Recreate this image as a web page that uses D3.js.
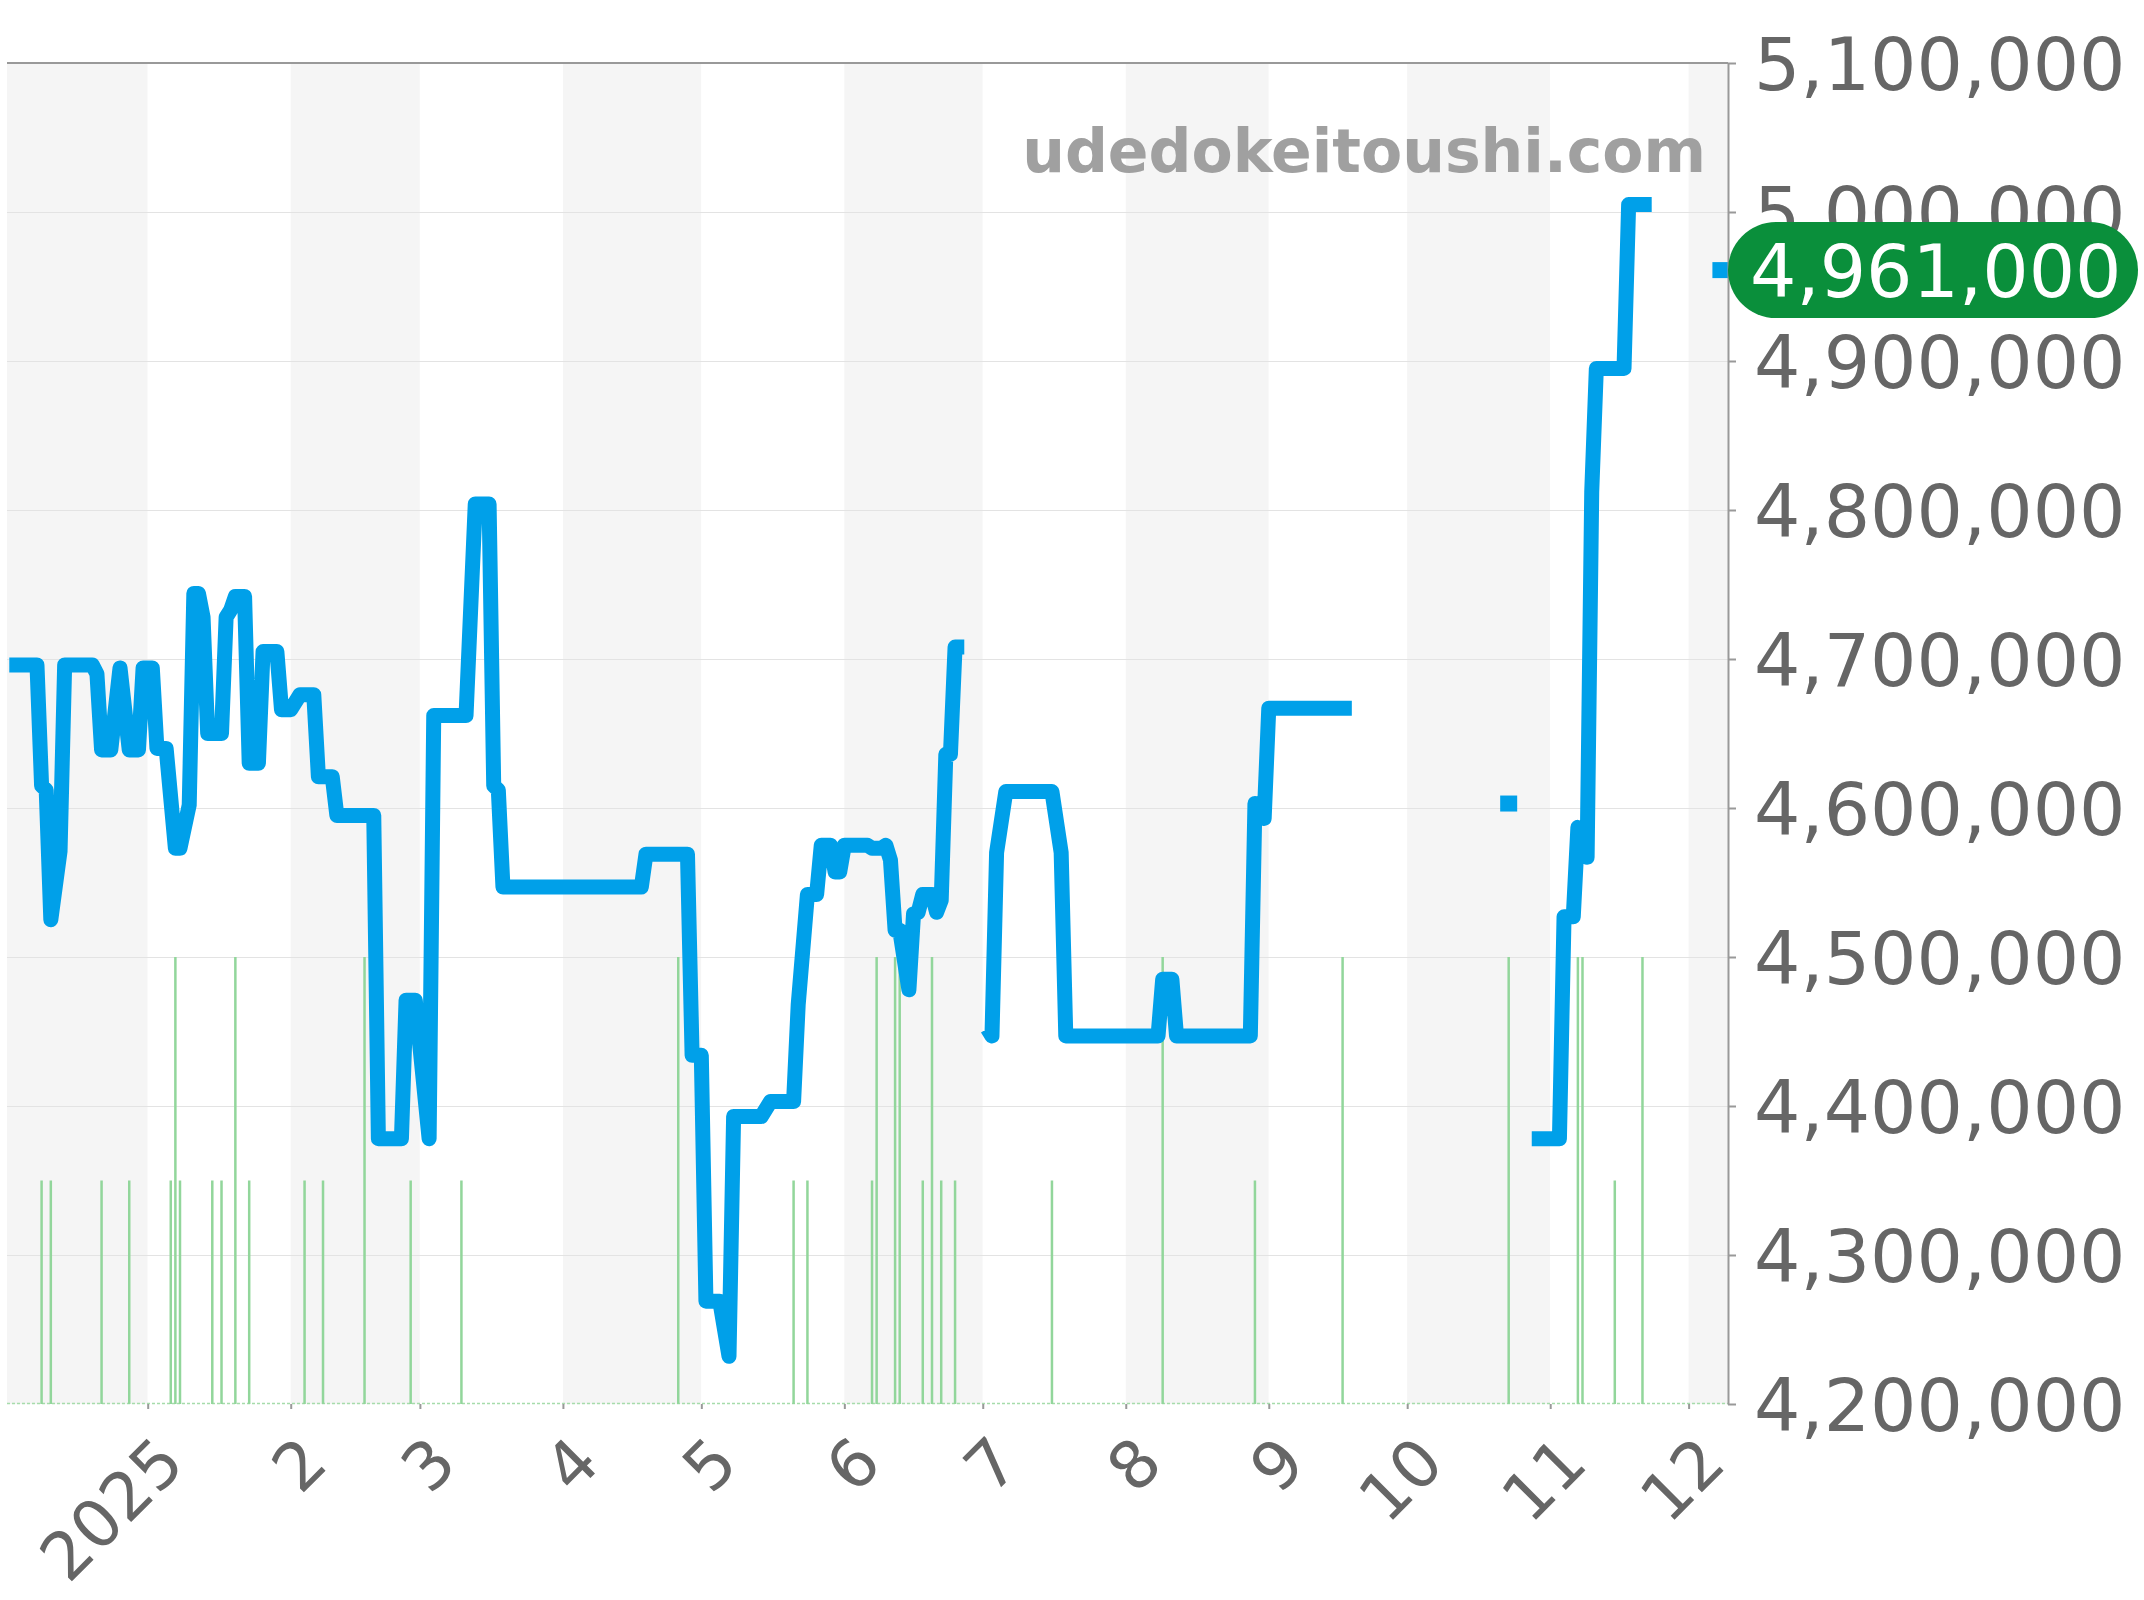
<!DOCTYPE html>
<html>
<head>
<meta charset="utf-8">
<script src="https://cdn.jsdelivr.net/npm/d3@7"></script>
<style>
  html, body { margin: 0; padding: 0; background: #ffffff; }
  svg { display: block; }
  text { font-family: "DejaVu Sans", sans-serif; }
</style>
</head>
<body>
<svg id="chart" width="2144" height="1600"></svg>
<script>
// ---------------- DATA ----------------
const priceDates = [
  "2024-12-02","2024-12-08","2024-12-09","2024-12-10","2024-12-11","2024-12-13","2024-12-14",
  "2024-12-20","2024-12-21","2024-12-22","2024-12-24","2024-12-26","2024-12-28","2024-12-30",
  "2024-12-31","2025-01-02","2025-01-03","2025-01-05","2025-01-07","2025-01-08","2025-01-10","2025-01-11",
  "2025-01-12","2025-01-13","2025-01-14","2025-01-17","2025-01-18","2025-01-19","2025-01-20",
  "2025-01-22","2025-01-23","2025-01-25","2025-01-26","2025-01-29","2025-01-30","2025-02-01",
  "2025-02-03","2025-02-06","2025-02-07","2025-02-10","2025-02-11","2025-02-19","2025-02-20",
  "2025-02-25","2025-02-26","2025-02-28","2025-03-03","2025-03-04","2025-03-11","2025-03-13",
  "2025-03-16","2025-03-17","2025-03-18","2025-03-19","2025-04-18","2025-04-19","2025-04-28",
  "2025-04-29","2025-05-01","2025-05-02","2025-05-05","2025-05-07","2025-05-08","2025-05-14",
  "2025-05-16","2025-05-21","2025-05-22","2025-05-24","2025-05-26","2025-05-27","2025-05-29",
  "2025-05-30","2025-05-31","2025-06-01","2025-06-06","2025-06-07","2025-06-09","2025-06-10",
  "2025-06-11","2025-06-12","2025-06-13","2025-06-15","2025-06-16","2025-06-17","2025-06-18",
  "2025-06-20","2025-06-21","2025-06-22","2025-06-23","2025-06-24","2025-06-25","2025-06-27",
  "2025-06-29",
  "2025-07-02","2025-07-03","2025-07-04","2025-07-06","2025-07-16","2025-07-18","2025-07-19",
  "2025-08-08","2025-08-09","2025-08-11","2025-08-12","2025-08-28","2025-08-29","2025-08-31",
  "2025-09-01","2025-09-19",
  "2025-09-20",
  "2025-10-23",
  "2025-10-24",
  "2025-10-28","2025-11-03","2025-11-04","2025-11-06","2025-11-07","2025-11-08","2025-11-09",
  "2025-11-10","2025-11-11","2025-11-17","2025-11-18","2025-11-23",
  "2025-11-24",
  "2025-12-08"
];
const priceValues = [
  4696000,4696000,4615000,4612000,4525000,4571000,4696000,
  4696000,4690000,4639000,4639000,4694000,4639000,4639000,
  4694000,4694000,4640000,4640000,4573000,4573000,4602000,4744000,
  4744000,4728000,4650000,4650000,4728000,4733000,4742000,
  4742000,4630000,4630000,4705000,4705000,4666000,4666000,
  4676000,4676000,4621000,4621000,4595000,4595000,4378000,
  4378000,4471000,4471000,4378000,4662000,4662000,4804000,
  4804000,4615000,4612000,4547000,4547000,4569000,4569000,
  4434000,4434000,4269000,4269000,4232000,4393000,4393000,
  4403000,4403000,4468000,4542000,4542000,4575000,4575000,
  4557000,4557000,4575000,4575000,4573000,4573000,4575000,
  4565000,4518000,4518000,4478000,4529000,4530000,4542000,
  4542000,4530000,4538000,4636000,4636000,4708000,4708000,
  null,
  4452000,4447000,4570000,4611000,4611000,4570000,4447000,
  4447000,4485000,4485000,4447000,4447000,4603000,4593000,
  4667000,4667000,
  null,
  4603000,
  null,
  4378000,4378000,4527000,4527000,4587000,4583000,4567000,
  4812000,4895000,4895000,5005000,5005000,
  null,
  4961000
];

const volumeDates = [
  "2024-12-09","2024-12-11","2024-12-22","2024-12-28","2025-01-06","2025-01-07","2025-01-08",
  "2025-01-15","2025-01-17","2025-01-20","2025-01-23","2025-02-04","2025-02-08","2025-02-17",
  "2025-02-27","2025-03-10","2025-04-26","2025-05-21","2025-05-24","2025-06-07","2025-06-08",
  "2025-06-12","2025-06-13","2025-06-18","2025-06-20","2025-06-22","2025-06-25","2025-07-16",
  "2025-08-09","2025-08-29","2025-09-17","2025-10-23","2025-11-07","2025-11-08","2025-11-15",
  "2025-11-21"
];
const volumeValues = [
  1,1,1,1,1,2,1,
  1,1,2,1,1,1,2,
  1,1,2,1,1,1,2,
  2,2,1,2,1,1,1,
  2,1,2,2,2,2,1,
  2
];

const yTickValues = [4200000,4300000,4400000,4500000,4600000,4700000,4800000,4900000,5000000,5100000];
const xTickLabels = ["2025","2","3","4","5","6","7","8","9","10","11","12"];
const latestPrice = 4961000;
const watermarkText = "udedokeitoushi.com";

// ---------------- LAYOUT ----------------
const plot = { left: 7, right: 1728, top: 63, bottom: 1404 };
const colors = {
  band: "#f5f5f5", grid: "#e3e3e3", axis: "#999999", label: "#666666",
  line: "#00a0e9", volume: "#92d69b", pill: "#0a8f3b", watermark: "#a0a0a0"
};

const parse = d3.timeParse("%Y-%m-%d");
const price = priceDates.map((d, i) => ({ date: parse(d), v: priceValues[i] }));
const volume = volumeDates.map((d, i) => ({ date: parse(d), v: volumeValues[i] }));

const svg = d3.select("#chart");

const x = d3.scaleTime()
  .domain([new Date(2024, 11, 1), new Date(2025, 11, 9)])
  .range([4.68, 4.68 + 373 * 4.6135]);
const y = d3.scaleLinear()
  .domain([4200000, 5100000])
  .range([plot.bottom, plot.top]);
const vy = d3.scaleLinear()
  .domain([0, 6])
  .range([plot.bottom, plot.top]);

svg.append("rect").attr("width", 2144).attr("height", 1600).attr("fill", "#fff");

svg.append("defs").append("clipPath").attr("id", "plotClip")
  .append("rect")
  .attr("x", plot.left).attr("y", plot.top - 20)
  .attr("width", plot.right - plot.left).attr("height", plot.bottom - plot.top + 20);

// month bands
const months = d3.timeMonth.range(new Date(2024, 11, 1), new Date(2026, 0, 1));
svg.append("g").selectAll("rect")
  .data(months)
  .join("rect")
  .attr("x", d => Math.max(x(d), plot.left))
  .attr("y", plot.top)
  .attr("width", d => Math.max(0, Math.min(x(d3.timeMonth.offset(d, 1)), plot.right) - Math.max(x(d), plot.left)))
  .attr("height", plot.bottom - plot.top)
  .attr("fill", (d, i) => i % 2 === 0 ? colors.band : "#ffffff");

// gridlines
svg.append("g").selectAll("line")
  .data(yTickValues.filter(v => v > 4200000 && v < 5100000))
  .join("line")
  .attr("x1", plot.left).attr("x2", plot.right)
  .attr("y1", d => Math.round(y(d)) + 0.5).attr("y2", d => Math.round(y(d)) + 0.5)
  .attr("stroke", colors.grid).attr("stroke-width", 1);

// watermark
svg.append("text")
  .attr("x", 1706).attr("y", 172)
  .attr("text-anchor", "end")
  .attr("font-size", 60).attr("font-weight", "bold")
  .attr("fill", colors.watermark)
  .text(watermarkText);

// bottom baseline (dashed light green)
svg.append("line")
  .attr("x1", plot.left).attr("x2", plot.right)
  .attr("y1", plot.bottom - 0.5).attr("y2", plot.bottom - 0.5)
  .attr("stroke", "#a6dcab").attr("stroke-width", 1.5)
  .attr("stroke-dasharray", "3,2");

const marks = svg.append("g").attr("clip-path", "url(#plotClip)");

// volume bars
marks.append("g").selectAll("rect")
  .data(volume)
  .join("rect")
  .attr("x", d => x(d.date) - 1.25)
  .attr("width", 2.5)
  .attr("y", d => vy(d.v))
  .attr("height", d => plot.bottom - vy(d.v))
  .attr("fill", colors.volume);

// price line
const line = d3.line()
  .defined(d => d.v != null)
  .x(d => x(d.date))
  .y(d => y(d.v));

marks.append("path")
  .datum(price)
  .attr("d", line)
  .attr("fill", "none")
  .attr("stroke", colors.line)
  .attr("stroke-width", 15)
  .attr("stroke-linejoin", "round")
  .attr("stroke-linecap", "butt");

// isolated points drawn as squares
const isolated = price.filter((d, i) => d.v != null &&
  (i === 0 || price[i - 1].v == null) &&
  (i === price.length - 1 || price[i + 1].v == null));
marks.append("g").selectAll("rect")
  .data(isolated)
  .join("rect")
  .attr("x", d => x(d.date) - 8.5)
  .attr("y", d => y(d.v) - 8)
  .attr("width", 17).attr("height", 16)
  .attr("fill", colors.line);

// top border
svg.append("line")
  .attr("x1", plot.left).attr("x2", plot.right)
  .attr("y1", plot.top).attr("y2", plot.top)
  .attr("stroke", colors.axis).attr("stroke-width", 2);

// y axis (right)
const yAxis = svg.append("g")
  .attr("transform", `translate(${plot.right},0)`)
  .call(d3.axisRight(y).tickValues(yTickValues).tickSize(8).tickSizeOuter(0).tickFormat(d3.format(",")));
yAxis.select(".domain").attr("stroke", colors.axis).attr("stroke-width", 2);
yAxis.selectAll(".tick line").attr("stroke", colors.axis).attr("stroke-width", 2);
yAxis.selectAll(".tick text")
  .attr("x", 26).attr("dy", "0.365em")
  .attr("font-size", 73).attr("font-family", "DejaVu Sans")
  .attr("fill", colors.label);

// x axis (bottom)
const monthTicks = d3.timeMonth.range(new Date(2025, 0, 1), new Date(2025, 11, 2));
const xAxis = svg.append("g")
  .attr("transform", `translate(0,${plot.bottom})`)
  .call(d3.axisBottom(x).tickValues(monthTicks).tickSize(5).tickFormat((d, i) => xTickLabels[i]));
xAxis.select(".domain").remove();
xAxis.selectAll(".tick line").attr("stroke", colors.axis).attr("stroke-width", 2);
xAxis.selectAll(".tick text")
  .attr("x", null).attr("y", null).attr("dy", null)
  .attr("transform", "translate(39,62) rotate(-45)")
  .attr("text-anchor", "end")
  .attr("font-size", 66).attr("font-family", "DejaVu Sans")
  .attr("fill", colors.label);

// latest price pill
const py = y(latestPrice);
svg.append("rect")
  .attr("x", plot.right).attr("y", py - 48)
  .attr("width", 410).attr("height", 96)
  .attr("rx", 48).attr("ry", 48)
  .attr("fill", colors.pill);
svg.append("text")
  .attr("x", plot.right + 22).attr("y", py).attr("dy", "0.365em")
  .attr("font-size", 73).attr("fill", "#ffffff")
  .text(d3.format(",")(latestPrice));
</script>
</body>
</html>
